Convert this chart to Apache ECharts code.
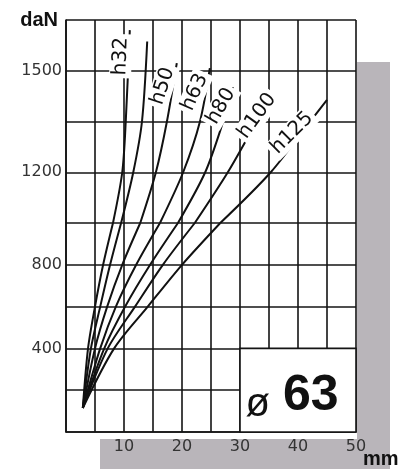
<!DOCTYPE html>
<html>
<head>
<meta charset="utf-8">
<script src="https://cdn.jsdelivr.net/npm/echarts@6/dist/echarts.min.js"></script>
<style>
html, body { margin: 0; padding: 0; background: #fff; }
#chart { width: 407px; height: 469px; }
</style>
</head>
<body>
<div id="chart"></div>
<script>
// points are [stroke mm, force]; force is in grid units (200 per grid line),
// the printed labels are read from yTickLabels
var curveNames  = ['h32', 'unlabeled', 'h50', 'h63', 'h80', 'h100', 'h125'];
var curveLabels = ['h32', '',          'h50', 'h63', 'h80', 'h100', 'h125'];
var h32   = [[2.9, 115], [3.8, 400], [5.0, 600], [6.4, 800], [8.1, 1000], [9.7, 1200], [10.3, 1400], [11.0, 1760]];
var hNone = [[2.9, 115], [4.3, 400], [5.9, 600], [7.6, 800], [9.5, 1000], [11.6, 1200], [13.1, 1400], [14.0, 1715]];
var h50   = [[2.9, 115], [5.0, 400], [7.1, 600], [9.7, 800], [12.8, 1000], [15.5, 1200], [17.4, 1400], [19.1, 1630]];
var h63   = [[2.9, 115], [5.9, 400], [8.6, 600], [12.1, 800], [16.2, 1000], [20.2, 1200], [23.1, 1400], [24.8, 1610]];
var h80   = [[2.9, 115], [6.6, 400], [10.2, 600], [14.5, 800], [19.3, 1000], [24.0, 1200], [27.1, 1400], [28.8, 1535]];
var h100  = [[2.9, 115], [7.2, 400], [11.9, 600], [16.7, 800], [22.2, 1000], [27.9, 1200], [32.9, 1400], [35.7, 1505]];
var h125  = [[2.9, 115], [8.3, 400], [14.1, 600], [20.0, 800], [26.6, 1000], [35.3, 1200], [42.1, 1400], [45.0, 1485]];
var curves = [h32, hNone, h50, h63, h80, h100, h125];

var xTickLabels = [10, 20, 30, 40, 50];
var yTickValues = [400, 800, 1200, 1600];
var yTickLabels = ['400', '800', '1200', '1500'];
var boxArea = [[30, 0], [50, 400]];

var SPLIT = 1000;   // the grid spacing changes here in the picture
var ink = '#141414';

// label placement relative to the top point of each curve (px, degrees)
var labelPos = {
    h32:  { dx: -9,  dy: 26, rot: 88 },
    h50:  { dx: -14, dy: 23, rot: 72 },
    h63:  { dx: -15, dy: 24, rot: 66 },
    h80:  { dx: -12, dy: 19, rot: 60 },
    h100: { dx: -16, dy: 21, rot: 54 },
    h125: { dx: -35, dy: 33, rot: 45 }
};

function yLabel(v) {
    var i = yTickValues.indexOf(v);
    return i < 0 ? '' : yTickLabels[i];
}

var chart = echarts.init(document.getElementById('chart'));

var lineStyle = { color: ink, width: 1.6 };
var axisText = { fontFamily: 'DejaVu Sans', fontSize: 16, color: '#333' };

var series = [];
curves.forEach(function (pts, i) {
    var upper = pts.filter(function (p) { return p[1] >= SPLIT; });
    var lower = pts.filter(function (p) { return p[1] <= SPLIT; });
    var common = {
        type: 'line',
        name: curveNames[i],
        smooth: 0.3,
        showSymbol: false,
        silent: true,
        lineStyle: { color: '#111', width: 2 },
        z: 3
    };
    series.push(Object.assign({}, common, { xAxisIndex: 0, yAxisIndex: 0, data: upper }));
    var low = Object.assign({}, common, { xAxisIndex: 1, yAxisIndex: 1, data: lower });
    if (i === 0) {
        low.markArea = {
            silent: true,
            itemStyle: { color: '#fff', borderColor: ink, borderWidth: 1.6 },
            label: {
                show: true,
                position: 'inside',
                offset: [-6, 6],
                formatter: '{a|ø}{b|63}',
                rich: {
                    a: { fontFamily: 'Liberation Sans', fontSize: 40, color: '#111', verticalAlign: 'bottom', padding: [0, 0, -4, 0] },
                    b: { fontFamily: 'Liberation Sans', fontSize: 50, fontWeight: 'bold', color: '#111', verticalAlign: 'bottom', padding: [0, 0, 0, 13] }
                }
            },
            data: [[{ coord: boxArea[0] }, { coord: boxArea[1] }]]
        };
    }
    series.push(low);
});

var xCommon = {
    type: 'value', min: 0, max: 50, interval: 5,
    axisLine: { show: true, lineStyle: lineStyle },
    axisTick: { show: false },
    splitLine: { show: true, lineStyle: lineStyle }
};

var option = {
    backgroundColor: '#fff',
    animation: false,
    grid: [
        { left: 66, right: 51, top: 20, height: 203 },
        { left: 66, right: 51, top: 223, height: 209 }
    ],
    xAxis: [
        Object.assign({}, xCommon, { gridIndex: 0, axisLine: { show: false }, axisLabel: { show: false } }),
        Object.assign({}, xCommon, {
            gridIndex: 1,
            name: 'mm',
            nameLocation: 'end',
            nameGap: 7,
            nameMoveOverlap: false,
            nameTextStyle: { fontFamily: 'Liberation Sans', fontSize: 20, fontWeight: 'bold', color: '#111',
                             align: 'left', verticalAlign: 'top', lineHeight: 20, padding: [17, 0, 0, 0] },
            axisLabel: Object.assign({}, axisText, {
                margin: 7,
                formatter: function (v) { return xTickLabels.indexOf(v) >= 0 ? String(v) : ''; }
            })
        })
    ],
    yAxis: [
        {
            type: 'value', gridIndex: 0, min: SPLIT, max: 1800, interval: 200,
            name: 'daN',
            nameLocation: 'end',
            nameGap: 0,
            nameMoveOverlap: false,
            nameTextStyle: { fontFamily: 'Liberation Sans', fontSize: 20, fontWeight: 'bold', color: '#111',
                             align: 'right', verticalAlign: 'middle', padding: [0, 8, 0, 0] },
            axisLine: { show: true, lineStyle: lineStyle },
            axisTick: { show: false },
            splitLine: { show: true, showMinLine: false, lineStyle: lineStyle },
            axisLabel: Object.assign({}, axisText, { margin: 4, formatter: yLabel })
        },
        {
            type: 'value', gridIndex: 1, min: 0, max: SPLIT, interval: 200,
            axisLine: { show: true, lineStyle: lineStyle },
            axisTick: { show: false },
            splitLine: { show: true, lineStyle: lineStyle },
            axisLabel: Object.assign({}, axisText, { margin: 4, formatter: yLabel })
        }
    ],
    series: series
};

chart.setOption(option);

// shadow of the printed card plus the rotated curve labels
var graphics = [
    { type: 'rect', z: -10, shape: { x: 357, y: 62, width: 33, height: 407 }, style: { fill: '#b9b5ba' } },
    { type: 'rect', z: -10, shape: { x: 100, y: 439, width: 290, height: 30 }, style: { fill: '#b9b5ba' } }
];
curves.forEach(function (pts, i) {
    var name = curveLabels[i];
    if (!name) return;
    var top = pts[pts.length - 1];
    var p = chart.convertToPixel({ gridIndex: 0 }, top);
    var lp = labelPos[name];
    graphics.push({
        type: 'text',
        z: 10,
        x: p[0] + lp.dx,
        y: p[1] + lp.dy,
        rotation: lp.rot * Math.PI / 180,
        style: {
            text: name,
            font: '20px "DejaVu Sans"',
            fill: '#111',
            align: 'center',
            verticalAlign: 'middle',
            backgroundColor: '#fff',
            padding: [1, 3]
        }
    });
});
chart.setOption({ graphic: graphics });

window.addEventListener('resize', function () { chart.resize(); });
</script>
</body>
</html>
